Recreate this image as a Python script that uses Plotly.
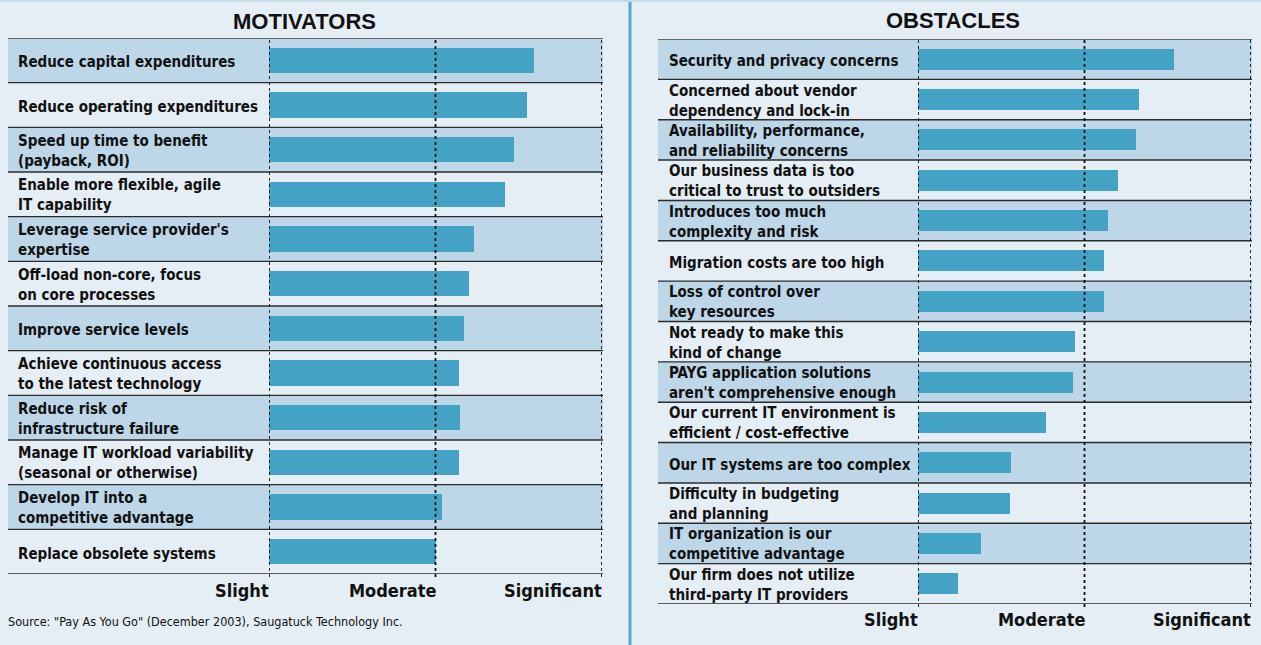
import plotly.graph_objects as go

W, H = 1261, 645

# Motivators (scale: 1 = Slight, 2 = Moderate, 3 = Significant)
motivator_labels = [
    "Reduce capital expenditures",
    "Reduce operating expenditures",
    "Speed up time to benefit\n(payback, ROI)",
    "Enable more flexible, agile\nIT capability",
    "Leverage service provider's\nexpertise",
    "Off-load non-core, focus\non core processes",
    "Improve service levels",
    "Achieve continuous access\nto the latest technology",
    "Reduce risk of\ninfrastructure failure",
    "Manage IT workload variability\n(seasonal or otherwise)",
    "Develop IT into a\ncompetitive advantage",
    "Replace obsolete systems",
]
motivator_values = [2.59, 2.55, 2.47, 2.42, 2.23, 2.20, 2.17, 2.14, 2.15, 2.14, 2.04, 2.00]

# Obstacles (same scale)
obstacle_labels = [
    "Security and privacy concerns",
    "Concerned about vendor\ndependency and lock-in",
    "Availability, performance,\nand reliability concerns",
    "Our business data is too\ncritical to trust to outsiders",
    "Introduces too much\ncomplexity and risk",
    "Migration costs are too high",
    "Loss of control over\nkey resources",
    "Not ready to make this\nkind of change",
    "PAYG application solutions\naren't comprehensive enough",
    "Our current IT environment is\nefficient / cost-effective",
    "Our IT systems are too complex",
    "Difficulty in budgeting\nand planning",
    "IT organization is our\ncompetitive advantage",
    "Our firm does not utilize\nthird-party IT providers",
]
obstacle_values = [2.54, 2.33, 2.31, 2.20, 2.14, 2.12, 2.12, 1.94, 1.93, 1.77, 1.56, 1.55, 1.38, 1.24]

scale_ticks = [1, 2, 3]
scale_labels = ["Slight", "Moderate", "Significant"]

BG = "#e5eef4"
BAND = "#bdd6e8"
BAR = "#44a3c5"
DIVIDER = "#5aa6c8"
NARROW = "DejaVu Sans Condensed, Liberation Sans Narrow, Arial Narrow, sans-serif"
WIDE = "Liberation Sans, Arial, sans-serif"


def px_x(p):
    return p / W


def px_y(p):
    return 1 - p / H


panels = [
    dict(labels=motivator_labels, values=motivator_values, xa="x", ya="y",
         left=8, right=603, slight=269, top=38, bottom=574, bar_w=0.56,
         title="MOTIVATORS", title_x=304, title_y=22, tick_y=590, label_x=16),
    dict(labels=obstacle_labels, values=obstacle_values, xa="x2", ya="y2",
         left=658, right=1252, slight=918, top=39, bottom=604, bar_w=0.52,
         title="OBSTACLES", title_x=953, title_y=20, tick_y=619, label_x=667),
]

fig = go.Figure()
shapes = []
annotations = []

for k, p in enumerate(panels):
    n = len(p["values"])
    ys = list(range(n))
    fig.add_trace(go.Bar(
        x=[v - scale_ticks[0] for v in p["values"]],
        base=[scale_ticks[0]] * n,
        y=ys, orientation="h", width=p["bar_w"],
        marker=dict(color=BAR, line=dict(width=0)),
        xaxis=p["xa"], yaxis=p["ya"], showlegend=False,
        hovertext=[l.replace("\n", " ") for l in p["labels"]], hoverinfo="text",
    ))
    yref = p["ya"]
    xref = p["xa"]
    # alternating row bands
    for i in range(n):
        if i % 2 == 0:
            shapes.append(dict(type="rect", xref="paper", yref=yref,
                               x0=px_x(p["left"]), x1=px_x(p["right"]),
                               y0=i - 0.5, y1=i + 0.5, fillcolor=BAND,
                               line=dict(width=0), layer="below"))
    # row separators
    for i in range(n + 1):
        top_line = i == 0
        shapes.append(dict(type="line", xref="paper", yref=yref,
                           x0=px_x(p["left"]), x1=px_x(p["right"]),
                           y0=i - 0.5, y1=i - 0.5,
                           line=dict(color="#666666" if top_line else "#2b2b2b",
                                     width=2 if top_line else 1.4),
                           layer="below"))
    # dotted scale markers
    for t in scale_ticks:
        shapes.append(dict(type="line", xref=xref, yref="paper",
                           x0=t, x1=t, y0=px_y(p["bottom"] + 3), y1=px_y(p["top"] - 1),
                           line=dict(color="#111111", width=1.8, dash="dot"),
                           layer="above"))
    for t, lab in zip(scale_ticks, scale_labels):
        annotations.append(dict(x=t, y=px_y(p["tick_y"]), xref=xref, yref="paper",
                                text=f"<b>{lab}</b>", showarrow=False,
                                xanchor="right", yanchor="middle", xshift=2,
                                font=dict(family=NARROW, size=18, color="#111111")))
    # row labels
    for i, lab in enumerate(p["labels"]):
        lines = lab.split("\n")
        text = "<br>".join(f"<b>{line}</b>" for line in lines)
        annotations.append(dict(x=px_x(p["label_x"]), y=i, xref="paper", yref=yref,
                                text=text, showarrow=False, align="left",
                                xanchor="left", yanchor="middle",
                                yshift=-2 if len(lines) == 1 else -1,
                                font=dict(family=NARROW, size=15, color="#111111")))
    annotations.append(dict(x=px_x(p["title_x"]), y=px_y(p["title_y"]),
                            xref="paper", yref="paper", text=f"<b>{p['title']}</b>",
                            showarrow=False, xanchor="center", yanchor="middle",
                            font=dict(family=WIDE, size=22, color="#111111")))

    fig.update_layout(**{
        ("xaxis" if k == 0 else "xaxis2"): dict(
            domain=[px_x(p["slight"]), px_x(p["right"] - 1)], range=[1, 3],
            visible=False, fixedrange=True),
        ("yaxis" if k == 0 else "yaxis2"): dict(
            domain=[px_y(p["bottom"]), px_y(p["top"])], range=[n - 0.5, -0.5],
            visible=False, fixedrange=True, anchor=xref),
    })

fig.layout.xaxis2.anchor = "y2"

# panel divider and top edge
shapes.append(dict(type="line", xref="paper", yref="paper", x0=px_x(630), x1=px_x(630),
                   y0=0, y1=1, line=dict(color=DIVIDER, width=3)))
shapes.append(dict(type="line", xref="paper", yref="paper", x0=0, x1=1,
                   y0=px_y(1), y1=px_y(1), line=dict(color="#c6dbe8", width=2)))

annotations.append(dict(x=px_x(6), y=px_y(621), xref="paper", yref="paper",
                        text='Source: "Pay As You Go" (December 2003), Saugatuck Technology Inc.',
                        showarrow=False, xanchor="left", yanchor="middle",
                        font=dict(family=NARROW, size=12.5, color="#111111")))

fig.update_layout(
    width=W, height=H, margin=dict(l=0, r=0, t=0, b=0),
    paper_bgcolor=BG, plot_bgcolor="rgba(0,0,0,0)",
    shapes=shapes, annotations=annotations, bargap=0,
)

fig.write_html("out.html")
